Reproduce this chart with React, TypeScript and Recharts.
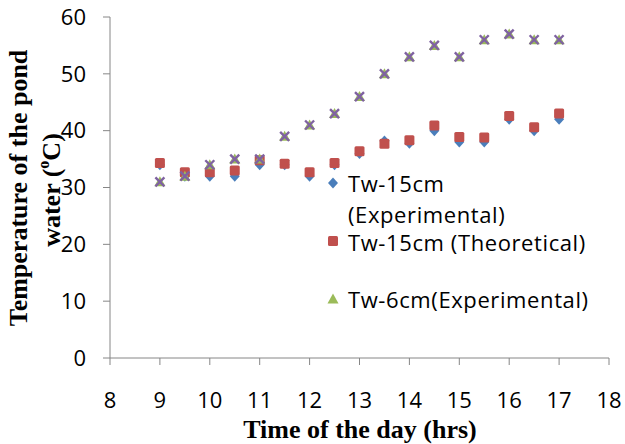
import { ScatterChart, Scatter, XAxis, YAxis } from 'recharts';

// hours of the day (every half hour from 9 to 17)
const hours = [9, 9.5, 10, 10.5, 11, 11.5, 12, 12.5, 13, 13.5, 14, 14.5, 15, 15.5, 16, 16.5, 17];

// pond water temperatures (°C)
const tw15Exp = [34, 32, 32, 32, 34, 34, 32, 34, 36, 38.2, 37.8, 40, 38, 38, 42, 40, 42];
const tw15Theo = [34.3, 32.7, 32.7, 33, 34.8, 34.2, 32.7, 34.3, 36.4, 37.7, 38.3, 40.9, 38.9, 38.8, 42.6, 40.6, 43];
const tw6Exp = [31, 32, 34, 35, 35, 39, 41, 43, 46, 50, 53, 55, 53, 56, 57, 56, 56];
const tw6Theo = [31, 32, 34, 35, 35, 39, 41, 43, 46, 50, 53, 55, 53, 56, 57, 56, 56];

const xTicks = [8, 9, 10, 11, 12, 13, 14, 15, 16, 17, 18];
const yTicks = [0, 10, 20, 30, 40, 50, 60];

const toPoints = (vals: number[]) => hours.map((h, i) => ({ x: h, y: vals[i] }));

const BLUE = '#4a7ebb';
const RED = '#c0504d';
const GREEN = '#9bbb59';
const PURPLE = '#7f62a1';
const AXIS = '#868686';
const SANS = '"Open Sans", sans-serif';
const SERIF = '"Liberation Serif", "Times New Roman", serif';

const Diamond = ({ cx, cy }: any) => (
  <path d={`M${cx},${cy - 5.5}L${cx + 5},${cy}L${cx},${cy + 5.5}L${cx - 5},${cy}Z`} fill={BLUE} />
);
const Square = ({ cx, cy }: any) => (
  <rect x={cx - 5} y={cy - 5} width={10} height={10} rx={1.5} fill={RED} />
);
const Triangle = ({ cx, cy }: any) => (
  <path d={`M${cx},${cy - 5.5}L${cx + 5.5},${cy + 4.5}L${cx - 5.5},${cy + 4.5}Z`} fill={GREEN} />
);
const Cross = ({ cx, cy }: any) => (
  <path
    d={`M${cx - 4.5},${cy - 4.5}L${cx + 4.5},${cy + 4.5}M${cx + 4.5},${cy - 4.5}L${cx - 4.5},${cy + 4.5}`}
    stroke={PURPLE}
    strokeWidth={2.4}
  />
);

export default function App() {
  return (
    <div style={{ position: 'absolute', left: 0, top: 0, width: 625, height: 444, background: '#fff' }}>
      <ScatterChart width={625} height={444} margin={{ top: 17, right: 16, bottom: 56, left: 0 }}>
        <XAxis
          type="number"
          dataKey="x"
          domain={[8, 18]}
          ticks={xTicks}
          interval={0}
          height={30}
          stroke={AXIS}
          tickSize={7}
          tickMargin={27}
          tick={{ fill: '#000', fontSize: 22, fontFamily: SANS }}
        />
        <YAxis
          type="number"
          dataKey="y"
          domain={[0, 60]}
          ticks={yTicks}
          interval={0}
          width={110}
          stroke={AXIS}
          tickSize={7}
          tickMargin={17}
          tick={{ fill: '#000', fontSize: 22, fontFamily: SANS }}
        />
        <Scatter data={toPoints(tw15Exp)} shape={(p: any) => <Diamond {...p} />} isAnimationActive={false} />
        <Scatter data={toPoints(tw15Theo)} shape={(p: any) => <Square {...p} />} isAnimationActive={false} />
        <Scatter data={toPoints(tw6Exp)} shape={(p: any) => <Triangle {...p} />} isAnimationActive={false} />
        <Scatter data={toPoints(tw6Theo)} shape={(p: any) => <Cross {...p} />} isAnimationActive={false} />
      </ScatterChart>
      <svg
        width={625}
        height={444}
        style={{ position: 'absolute', left: 0, top: 0, pointerEvents: 'none' }}
      >
        <g fontFamily={SERIF} fontWeight="bold" fontSize={26} fill="#000">
          <text x={360} y={429} textAnchor="middle" dominantBaseline="central">
            Time of the day (hrs)
          </text>
          <text x={18} y={188} textAnchor="middle" dominantBaseline="central" transform="rotate(-90 18 188)">
            Temperature of the pond
          </text>
          <text x={51} y={190} textAnchor="middle" dominantBaseline="central" transform="rotate(-90 51 190)">
            water (<tspan fontSize={16} dy={-8}>o</tspan>
            <tspan dy={8}>C)</tspan>
          </text>
        </g>
        <g fontFamily={SANS} fontSize={22} fill="#000" letterSpacing={0.6}>
          <Diamond cx={333} cy={183} />
          <text x={348} y={183} dominantBaseline="central">Tw-15cm</text>
          <text x={348} y={214} dominantBaseline="central">(Experimental)</text>
          <Square cx={333} cy={241} />
          <text x={348} y={242} dominantBaseline="central">Tw-15cm (Theoretical)</text>
          <Triangle cx={333} cy={299} />
          <text x={348} y={299} dominantBaseline="central">Tw-6cm(Experimental)</text>
        </g>
      </svg>
    </div>
  );
}
